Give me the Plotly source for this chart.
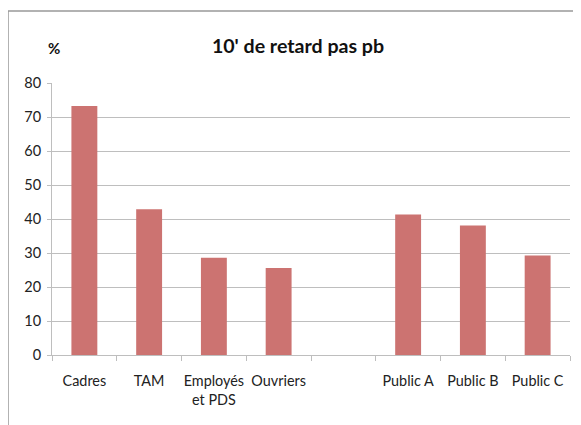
import plotly.graph_objects as go

categories = ["Cadres", "TAM", "Employés<br>et PDS", "Ouvriers", " ", "Public A", "Public B", "Public C"]
values = [73.2, 42.9, 28.6, 25.6, None, 41.3, 38.1, 29.3]
y_ticks = [0, 10, 20, 30, 40, 50, 60, 70, 80]

FONT = "Lato, Liberation Sans, Arial, sans-serif"
BAR = "#CC7371"
GRID = "#BEBEBE"

# The page body adds an 8px offset; layout numbers below are figure coordinates.
W, H = 573, 417
L, R, T, B = 44, 11, 75, 70
PW, PH = W - L - R, H - T - B

fig = go.Figure(go.Bar(x=categories, y=values, marker=dict(color=BAR, line=dict(width=0)), width=0.4))

fig.update_layout(
    width=W, height=H,
    margin=dict(l=L, r=R, t=T, b=B, autoexpand=False),
    paper_bgcolor="white", plot_bgcolor="white",
    showlegend=False,
    font=dict(family=FONT, size=14, color="#222222"),
    title=dict(text="<b>10' de retard pas pb</b>", x=290 / W, xanchor="center",
               y=1 - 38 / H, yanchor="middle", font=dict(family=FONT, size=19.6, color="#111111")),
    xaxis=dict(type="category", showline=True, linecolor=GRID, linewidth=1,
               ticks="outside", ticklen=5, tickcolor=GRID, tickson="boundaries",
               showgrid=False, tickfont=dict(size=14.4), tickangle=0, automargin=False,
               ticklabelstandoff=13),
    yaxis=dict(range=[0, 80], tickvals=y_ticks, showline=True, linecolor=GRID, linewidth=1,
               ticks="outside", ticklen=4, tickcolor=GRID, gridcolor=GRID, gridwidth=1,
               zeroline=False, tickfont=dict(size=14.5), automargin=False,
               ticklabelstandoff=3),
    annotations=[dict(text="<b>%</b>", xref="paper", yref="paper",
                      x=(46 - L) / PW, y=1 + (T - 40) / PH, xanchor="center", yanchor="middle",
                      showarrow=False, font=dict(family=FONT, size=15, color="#111111"))],
    shapes=[dict(type="path", xref="paper", yref="paper",
                 path="M {x0} {y0} L {x0} {y1} L {x2} {y1} L {x2} {y0}".format(
                     x0=(0 - L) / PW, y0=-(B + 20) / PH,
                     y1=1 + (T - 3) / PH, x2=(572 - L) / PW),
                 line=dict(color="#999999", width=1.5))],
)

fig.write_html("out.html")
